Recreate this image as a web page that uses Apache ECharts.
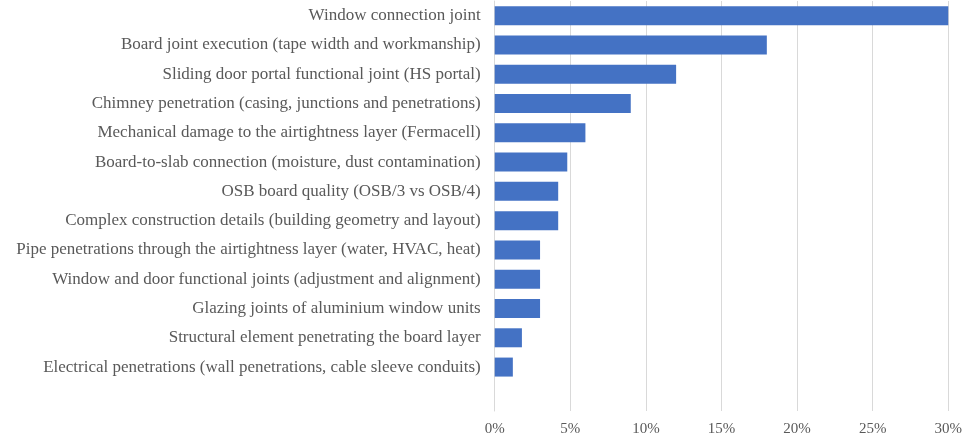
<!DOCTYPE html>
<html>
<head>
<meta charset="utf-8">
<script src="https://cdn.jsdelivr.net/npm/echarts@6/dist/echarts.min.js"></script>
<style>html,body{margin:0;padding:0;background:#fff}#c{width:965px;height:439px}</style>
</head>
<body>
<div id="c"></div>
<script>
const categories = [
  "Window connection joint",
  "Board joint execution (tape width and workmanship)",
  "Sliding door portal functional joint (HS portal)",
  "Chimney penetration (casing, junctions and penetrations)",
  "Mechanical damage to the airtightness layer (Fermacell)",
  "Board-to-slab connection (moisture, dust contamination)",
  "OSB board quality (OSB/3 vs OSB/4)",
  "Complex construction details (building geometry and layout)",
  "Pipe penetrations through the airtightness layer (water, HVAC, heat)",
  "Window and door functional joints (adjustment and alignment)",
  "Glazing joints of aluminium window units",
  "Structural element penetrating the board layer",
  "Electrical penetrations (wall penetrations, cable sleeve conduits)",
  ""
];
const values = [30, 18, 12, 9, 6, 4.8, 4.2, 4.2, 3, 3, 3, 1.8, 1.2, null];
const xTicks = [0, 5, 10, 15, 20, 25, 30];

const chart = echarts.init(document.getElementById('c'));
chart.setOption({
  animation: false,
  grid: { left: 494.7, right: 15.7, top: 1, bottom: 28, containLabel: false },
  xAxis: {
    type: 'value', min: xTicks[0], max: xTicks[xTicks.length - 1], interval: 5,
    axisLine: { show: false }, axisTick: { show: false },
    splitLine: { lineStyle: { color: '#d9d9d9', width: 1 } },
    axisLabel: { formatter: '{value}%', color: '#595959', fontFamily: 'Liberation Serif', fontSize: 15, margin: 11 }
  },
  yAxis: {
    type: 'category', data: categories, inverse: true,
    axisLine: { show: true, lineStyle: { color: '#d9d9d9' } },
    axisTick: { show: false },
    axisLabel: { color: '#595959', fontFamily: 'Liberation Serif', fontSize: 17, margin: 14, interval: 0 }
  },
  series: [{
    type: 'bar', data: values, barWidth: 19,
    itemStyle: { color: '#4472C4' }
  }]
});
</script>
</body>
</html>
